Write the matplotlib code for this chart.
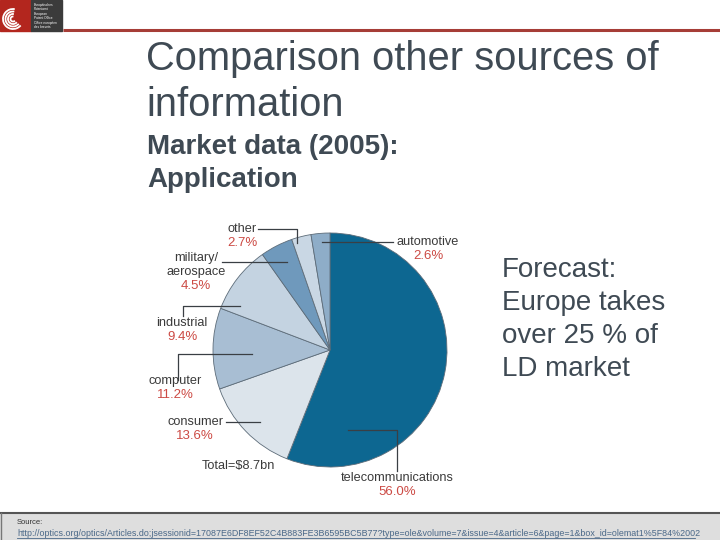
import matplotlib
matplotlib.use("Agg")
import matplotlib.pyplot as plt
from matplotlib.patches import Rectangle, Arc

plt.rcParams["font.family"] = ["Liberation Sans", "DejaVu Sans"]

# Market data (2005) by application, share of total ($8.7bn)
categories = ["telecommunications", "consumer", "computer", "industrial",
              "military/\naerospace", "other", "automotive"]
shares = [56.0, 13.6, 11.2, 9.4, 4.5, 2.7, 2.6]
total_label = "Total=$8.7bn"

title_lines = ["Comparison other sources of", "information"]
subtitle_lines = ["Market data (2005):", "Application"]
forecast_lines = ["Forecast:", "Europe takes", "over 25 % of", "LD market"]
source_url = ("http://optics.org/optics/Articles.do;jsessionid=17087E6DF8EF52C4B883FE3B6595BC5B77"
              "?type=ole&volume=7&issue=4&article=6&page=1&box_id=olemat1%5F84%2002")

colors = ["#0d6791", "#dce4eb", "#a8bed3", "#c4d3e1", "#6f99bc", "#c9d7e4", "#8eadc8"]
text_col = "#3f4a54"
label_col = "#3a3a3a"
pct_col = "#cc4a44"

W, H = 720, 540
fig = plt.figure(figsize=(7.2, 5.4), dpi=100)
fig.patch.set_facecolor("white")

# pie axes: centre (330, 350) px, radius 117 px
cx, cy, r = 330, 350, 117
ax = fig.add_axes([(cx - r) / W, (H - cy - r) / H, 2 * r / W, 2 * r / H])
ax.pie(shares, colors=colors, startangle=90, counterclock=False,
       wedgeprops=dict(edgecolor="#5d6c79", linewidth=0.6))
ax.set_xlim(-1, 1)
ax.set_ylim(-1, 1)
ax.set_aspect("equal")

# overlay in pixel coordinates for slide decoration and labels
ov = fig.add_axes([0, 0, 1, 1], zorder=5)
ov.set_xlim(0, W)
ov.set_ylim(H, 0)
ov.axis("off")

# logo
ov.add_patch(Rectangle((0, 0), 31, 31, color="#b3261e"))
for rad in [5, 10, 15, 20]:
    ov.add_patch(Arc((13, 19), rad, rad, theta1=40, theta2=280, color="white", lw=1.3))
ov.add_patch(Rectangle((31, 0), 31, 31, color="#3b3b3b"))
for i, t in enumerate(["Europäisches\nPatentamt", "European\nPatent Office",
                       "Office européen\ndes brevets"]):
    ov.text(34, 3 + i * 9, t, color="white", fontsize=2.3, va="top", linespacing=1.0)
ov.plot([63, 720], [30, 30], color="#a63d37", lw=2.2, solid_capstyle="butt")

# titles
for i, t in enumerate(title_lines):
    ov.text(146, 70 + i * 46, t, fontsize=28.7, color=text_col, va="baseline")
for i, t in enumerate(subtitle_lines):
    ov.text(147, 154 + i * 33, t, fontsize=20, fontweight="bold", color=text_col, va="baseline")
for i, t in enumerate(forecast_lines):
    ov.text(502, 277 + i * 33, t, fontsize=20, color=text_col, va="baseline")

# pie labels: (name, pct) centre position and leader line path
label_pos = [(397, 478), (195, 422), (175, 381), (182, 323), (196, 265), (242, 229), (428, 242)]
leaders = [
    [(348, 430), (397, 430), (397, 471)],
    [(226, 422), (260, 422)],
    [(178, 380), (178, 354), (252, 354)],
    [(183, 316), (183, 306), (240, 306)],
    [(222, 262), (287, 262)],
    [(258, 229), (297, 229), (297, 243)],
    [(393, 242), (322, 242)],
]
for name, val, (lx, ly), path in zip(categories, shares, label_pos, leaders):
    xs, ys = zip(*path)
    ov.plot(xs, ys, color="#3a3f44", lw=0.9)
    n_lines = name.count("\n") + 1
    ov.text(lx, ly, name, fontsize=9.2, color=label_col, ha="center", va="center",
            linespacing=1.15)
    ov.text(lx, ly + 8 + n_lines * 7 - 1, f"{val:.1f}%", fontsize=9.5, color=pct_col,
            ha="center", va="center")
ov.text(238, 466, total_label, fontsize=9.2, color=label_col, ha="center", va="center")

# source footer
ov.add_patch(Rectangle((0, 513), W, 27, facecolor="#dedede", edgecolor="none"))
ov.plot([0, W], [513, 513], color="#555555", lw=1.5)
ov.plot([0.5, 0.5], [513, 540], color="#777777", lw=1.0)
ov.text(17, 522, "Source:", fontsize=5.5, color="#333333", va="center")
ov.text(17, 533, source_url, fontsize=6.4, color="#4a6888", va="center")
ov.plot([17, 695], [538, 538], color="#4a6888", lw=0.6)

fig.savefig("out.png", dpi=100)
